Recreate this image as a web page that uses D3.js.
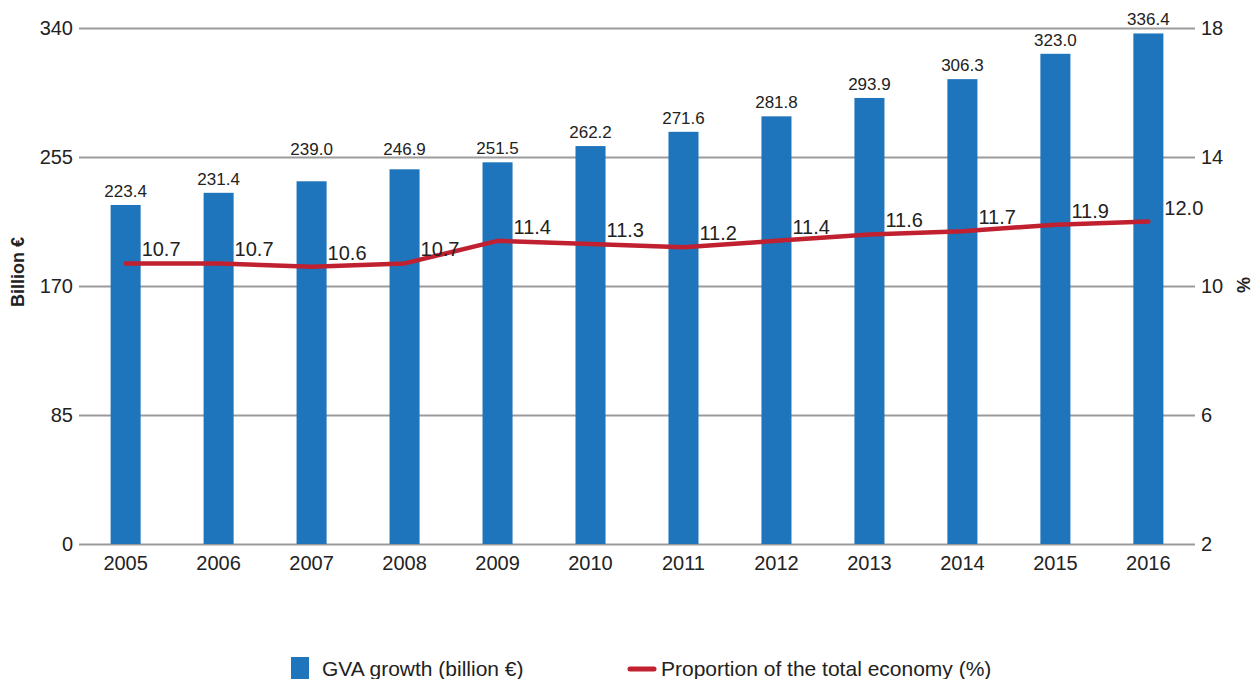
<!DOCTYPE html>
<html><head><meta charset="utf-8">
<script src="https://cdn.jsdelivr.net/npm/d3@7"></script>
<style>body{margin:0;background:#fff;} text{font-family:"Liberation Sans",Arial,sans-serif;fill:#222;}</style>
</head><body>
<svg id="c" width="1253" height="679"></svg>
<script>
const years = ["2005","2006","2007","2008","2009","2010","2011","2012","2013","2014","2015","2016"];
const gva = [223.4,231.4,239.0,246.9,251.5,262.2,271.6,281.8,293.9,306.3,323.0,336.4];
const share = [10.7,10.7,10.6,10.7,11.4,11.3,11.2,11.4,11.6,11.7,11.9,12.0];
const leftTicks = [0,85,170,255,340];
const rightTicks = [2,6,10,14,18];

const svg = d3.select("#c");
const L = 79, R = 1195, T = 28, B = 544;
const x = d3.scaleBand().domain(years).range([L, R]).paddingInner(0.677).paddingOuter(0.34);
const y = d3.scaleLinear().domain([0,340]).range([B,T]);
const y2 = d3.scaleLinear().domain([2,18]).range([B,T]);
const blue = "#1f75bc", red = "#c0202f";

// gridlines
const gl = svg.append("g").attr("transform",`translate(${L},0)`)
  .call(d3.axisLeft(y).tickValues(leftTicks).tickSize(0).tickPadding(6));
gl.select(".domain").remove();
gl.selectAll(".tick line").attr("stroke","#9b9b9b").attr("stroke-width",2.2).attr("x1",0).attr("x2",R-L);
gl.selectAll(".tick text").attr("font-size",20).attr("fill","#222");

const gr = svg.append("g").attr("transform",`translate(${R},0)`)
  .call(d3.axisRight(y2).tickValues(rightTicks).tickSize(0).tickPadding(6));
gr.select(".domain").remove();
gr.selectAll(".tick text").attr("font-size",20).attr("fill","#222");

// bars
svg.append("g").selectAll("rect").data(years).join("rect")
  .attr("x", d=>x(d)).attr("width", x.bandwidth())
  .attr("y",(d,i)=>y(gva[i])).attr("height",(d,i)=>y(0)-y(gva[i]))
  .attr("fill", blue);

// bar labels: sit above bar; if the label would come close to a gridline, lift it above that gridline
const gridY = leftTicks.map(v=>y(v));
function labelY(v){
  let b = y(v) - 8;
  const top = b - 13;
  gridY.forEach(g=>{ if (top - 4 < g && b + 2 > g) b = g - 2; });
  return b;
}
svg.append("g").selectAll("text").data(years).join("text")
  .attr("x", d=>x(d)+x.bandwidth()/2)
  .attr("y",(d,i)=>labelY(gva[i]))
  .attr("text-anchor","middle").attr("font-size",17)
  .text((d,i)=>gva[i].toFixed(1));

// x labels
svg.append("g").selectAll("text").data(years).join("text")
  .attr("x", d=>x(d)+x.bandwidth()/2).attr("y", B+26)
  .attr("text-anchor","middle").attr("font-size",20).text(d=>d);

// line
const line = d3.line().x((d,i)=>x(years[i])+x.bandwidth()/2).y(d=>y2(d));
svg.append("path").datum(share).attr("d",line).attr("fill","none")
  .attr("stroke",red).attr("stroke-width",4.5).attr("stroke-linecap","round").attr("stroke-linejoin","round");

svg.append("g").selectAll("text").data(share).join("text")
  .attr("x",(d,i)=>x(years[i])+x.bandwidth()/2+16)
  .attr("y",d=>y2(d)-7).attr("font-size",20)
  .text(d=>d.toFixed(1));

// axis titles
svg.append("text").attr("transform",`translate(24,272) rotate(-90)`).attr("text-anchor","middle")
  .attr("font-size",18).attr("font-weight","bold").text("Billion €");
svg.append("text").attr("transform",`translate(1237,285) rotate(90)`).attr("text-anchor","middle")
  .attr("font-size",18).attr("font-weight","bold").text("%");

// legend
const lg = svg.append("g");
lg.append("rect").attr("x",291).attr("y",657).attr("width",18).attr("height",24).attr("fill",blue);
lg.append("text").attr("x",322).attr("y",676).attr("font-size",21).text("GVA growth (billion €)");
lg.append("line").attr("x1",630).attr("x2",654).attr("y1",669).attr("y2",669)
  .attr("stroke",red).attr("stroke-width",5).attr("stroke-linecap","round");
lg.append("text").attr("x",661).attr("y",676).attr("font-size",21).text("Proportion of the total economy (%)");
</script>
</body></html>
